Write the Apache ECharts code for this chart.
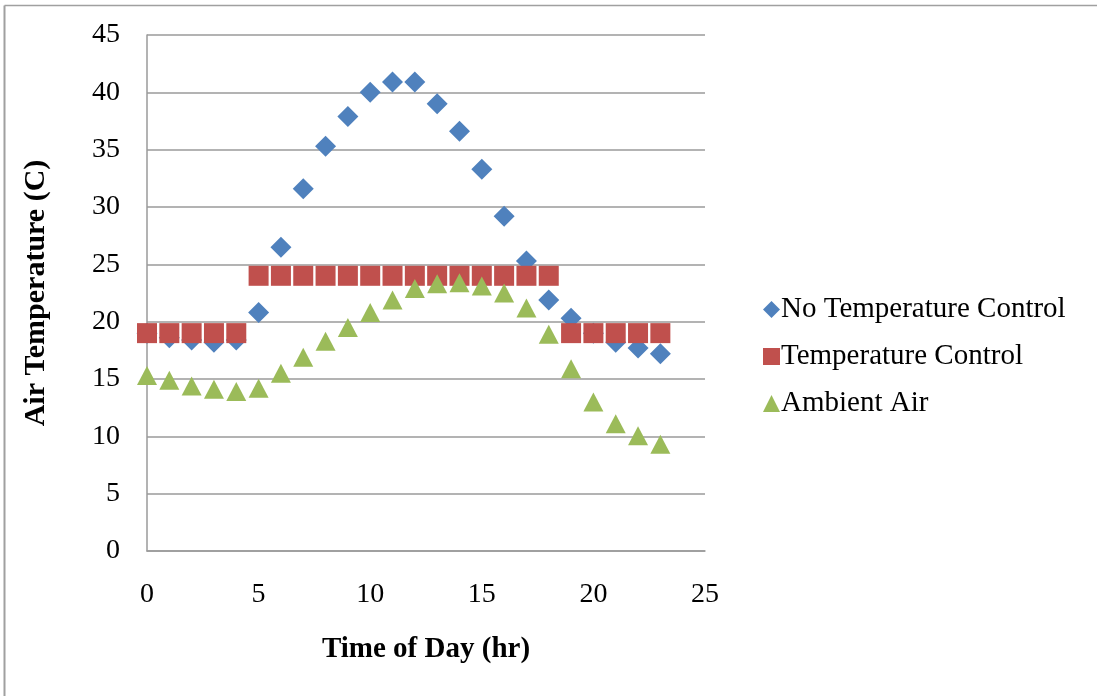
<!DOCTYPE html>
<html>
<head>
<meta charset="utf-8">
<title>Air Temperature over the Day</title>
<script src="https://cdn.jsdelivr.net/npm/echarts@6/dist/echarts.min.js"></script>
<style>
  html, body { margin: 0; padding: 0; background: #ffffff; }
  #chart { width: 1097px; height: 696px; }
</style>
</head>
<body>
<div id="chart"></div>
<script>
// Hour of day (0-23)
var hours = [0,1,2,3,4,5,6,7,8,9,10,11,12,13,14,15,16,17,18,19,20,21,22,23];

// Air temperature (C) per hour
var noControl = [19.0,18.6,18.4,18.2,18.4,20.8,26.5,31.6,35.3,37.9,40.0,40.9,40.9,39.0,36.6,33.3,29.2,25.3,21.9,20.3,19.0,18.2,17.7,17.2];
var withControl = [19,19,19,19,19,24,24,24,24,24,24,24,24,24,24,24,24,24,24,19,19,19,19,19];
var ambient = [15.3,14.9,14.4,14.1,13.9,14.2,15.5,16.9,18.3,19.5,20.8,21.9,22.9,23.3,23.4,23.1,22.5,21.2,18.9,15.9,13.0,11.1,10.05,9.3];

var seriesNames = ['No Temperature Control', 'Temperature Control', 'Ambient Air'];
var xTitle = 'Time of Day (hr)';
var yTitle = 'Air Temperature (C)';

function pairs(values) {
  return hours.map(function (h, i) { return [h, values[i]]; });
}

var FONT = '"Liberation Serif", "Times New Roman", serif';
var AXIS_GRAY = '#9a9a9a';

var chart = echarts.init(document.getElementById('chart'), null, { renderer: 'canvas' });

chart.setOption({
  backgroundColor: '#ffffff',
  animation: false,
  textStyle: { fontFamily: FONT, color: '#000000' },
  grid: { left: 147, right: 392, top: 35, bottom: 145, containLabel: false },
  xAxis: {
    type: 'value',
    min: 0, max: 25, interval: 5,
    name: xTitle,
    nameLocation: 'middle',
    nameGap: 84,
    nameTextStyle: { fontFamily: FONT, fontSize: 29, fontWeight: 'bold', color: '#000' },
    axisLine: { show: true, lineStyle: { color: AXIS_GRAY, width: 1.5 } },
    axisTick: { show: false },
    splitLine: { show: false },
    axisLabel: { fontFamily: FONT, fontSize: 28, color: '#000', margin: 30 }
  },
  yAxis: {
    type: 'value',
    min: 0, max: 45, interval: 5,
    name: yTitle,
    nameLocation: 'middle',
    nameGap: 96,
    nameRotate: 90,
    nameTextStyle: { fontFamily: FONT, fontSize: 30, fontWeight: 'bold', color: '#000' },
    axisLine: { show: true, lineStyle: { color: AXIS_GRAY, width: 1.5 } },
    axisTick: { show: false },
    splitLine: { show: true, lineStyle: { color: AXIS_GRAY, width: 1.5 } },
    axisLabel: { fontFamily: FONT, fontSize: 28, color: '#000', margin: 27 }
  },
  legend: {
    orient: 'vertical',
    left: 758,
    top: 290,
    itemGap: 18,
    itemWidth: 17,
    itemHeight: 17,
    textStyle: { fontFamily: FONT, fontSize: 29, lineHeight: 29, color: '#000', padding: [0, 0, 0, -4] },
    data: [
      { name: seriesNames[0], icon: 'diamond', itemStyle: { color: '#4F81BD' } },
      { name: seriesNames[1], icon: 'rect', itemStyle: { color: '#C0504D' } },
      { name: seriesNames[2], icon: 'triangle', itemStyle: { color: '#9BBB59' } }
    ]
  },
  graphic: [
    { type: 'line', shape: { x1: 4.5, y1: 5.5, x2: 1097, y2: 5.5 }, style: { stroke: '#a0a0a0', lineWidth: 1.5 }, silent: true },
    { type: 'line', shape: { x1: 4.5, y1: 5.5, x2: 4.5, y2: 696 }, style: { stroke: '#a0a0a0', lineWidth: 2 }, silent: true }
  ],
  series: [
    {
      name: seriesNames[0],
      type: 'scatter',
      symbol: 'diamond',
      symbolSize: 21,
      itemStyle: { color: '#4F81BD', opacity: 1 },
      data: pairs(noControl),
      z: 2
    },
    {
      name: seriesNames[1],
      type: 'scatter',
      symbol: 'rect',
      symbolSize: 20,
      itemStyle: { color: '#C0504D', opacity: 1 },
      data: pairs(withControl),
      z: 3
    },
    {
      name: seriesNames[2],
      type: 'scatter',
      symbol: 'triangle',
      symbolSize: [20, 19],
      itemStyle: { color: '#9BBB59', opacity: 1 },
      data: pairs(ambient),
      z: 4
    }
  ]
});
</script>
</body>
</html>
